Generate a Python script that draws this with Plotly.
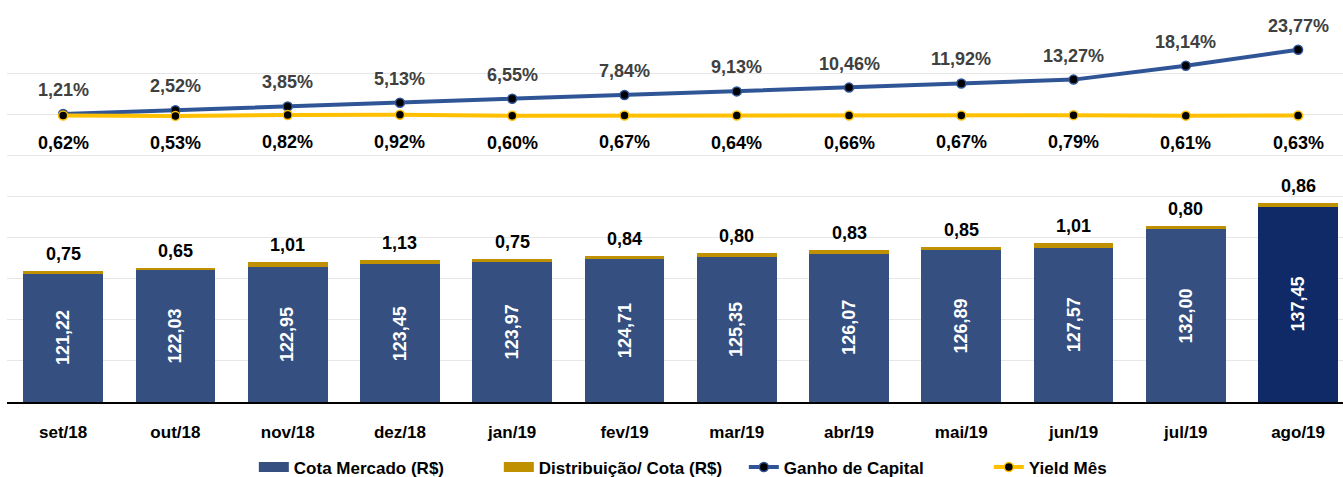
import plotly.graph_objects as go

meses = ["set/18", "out/18", "nov/18", "dez/18", "jan/19", "fev/19",
         "mar/19", "abr/19", "mai/19", "jun/19", "jul/19", "ago/19"]
cota_mercado = [121.22, 122.03, 122.95, 123.45, 123.97, 124.71,
                125.35, 126.07, 126.89, 127.57, 132.00, 137.45]
distribuicao = [0.75, 0.65, 1.01, 1.13, 0.75, 0.84,
                0.80, 0.83, 0.85, 1.01, 0.80, 0.86]
ganho_capital = [1.21, 2.52, 3.85, 5.13, 6.55, 7.84,
                 9.13, 10.46, 11.92, 13.27, 18.14, 23.77]
yield_mes = [0.62, 0.53, 0.82, 0.92, 0.60, 0.67,
             0.64, 0.66, 0.67, 0.79, 0.61, 0.63]


def br(v, suffix=""):
    return f"{v:.2f}".replace(".", ",") + suffix


BLUE = "#344F80"
DARK = "#0F2A66"
GOLD = "#BF9000"
LINE_BLUE = "#2F5597"
LINE_YEL = "#FFC000"
FONT = "Liberation Sans"

Y_MIN, Y_MAX = 90, 180          # bar axis range
Y2_MIN, Y2_MAX = -100, 30       # line axis range

bar_colors = [BLUE] * (len(meses) - 1) + [DARK]

fig = go.Figure()
fig.add_trace(go.Bar(
    x=meses, y=cota_mercado, name="Cota Mercado (R$)", showlegend=False,
    marker=dict(color=bar_colors, line=dict(width=0)),
))
fig.add_trace(go.Bar(
    x=meses, y=distribuicao, name="Distribuição/ Cota (R$)", showlegend=False,
    marker=dict(color=GOLD, line=dict(width=0)),
))
# legend swatches for the bar series (wide rectangles as in the original)
fig.add_trace(go.Scatter(
    x=[None], y=[None], name="Cota Mercado (R$)", mode="lines",
    line=dict(color=BLUE, width=10),
))
fig.add_trace(go.Scatter(
    x=[None], y=[None], name="Distribuição/ Cota (R$)", mode="lines",
    line=dict(color=GOLD, width=10),
))
fig.add_trace(go.Scatter(
    x=meses, y=ganho_capital, name="Ganho de Capital", yaxis="y2",
    mode="lines+markers", line=dict(color=LINE_BLUE, width=4),
    marker=dict(color="black", size=9, line=dict(color=LINE_BLUE, width=1.5)),
))
fig.add_trace(go.Scatter(
    x=meses, y=yield_mes, name="Yield Mês", yaxis="y2",
    mode="lines+markers", line=dict(color=LINE_YEL, width=4),
    marker=dict(color="black", size=9, line=dict(color=LINE_YEL, width=1.5)),
))

annotations = []
for m, g in zip(meses, ganho_capital):
    annotations.append(dict(x=m, y=g, xref="x", yref="y2", text=br(g, "%"),
                            showarrow=False, yshift=24,
                            font=dict(size=18, color="#404040", family=FONT, weight="bold")))
for m, yv in zip(meses, yield_mes):
    annotations.append(dict(x=m, y=yv, xref="x", yref="y2", text=br(yv, "%"),
                            showarrow=False, yshift=-27,
                            font=dict(size=18, color="black", family=FONT, weight="bold")))
for m, c, d in zip(meses, cota_mercado, distribuicao):
    annotations.append(dict(x=m, y=c + d, xref="x", yref="y", text=br(d),
                            showarrow=False, yshift=17,
                            font=dict(size=18, color="black", family=FONT, weight="bold")))
    # value label inside the visible part of the bar, rotated
    annotations.append(dict(x=m, y=(Y_MIN + c) / 2, xref="x", yref="y", text=br(c),
                            showarrow=False, textangle=-90,
                            font=dict(size=18, color="white", family=FONT, weight="bold")))

fig.update_layout(
    width=1343, height=477,
    margin=dict(l=7, r=0, t=32, b=75, autoexpand=False),
    paper_bgcolor="white", plot_bgcolor="white",
    barmode="stack", bargap=0.29,
    font=dict(family=FONT, size=18, color="black"),
    showlegend=True,
    legend=dict(orientation="h", xref="container", x=0.189, xanchor="left",
                yref="container", y=0.02, yanchor="middle",
                traceorder="normal", entrywidth=200, entrywidthmode="pixels",
                font=dict(family=FONT, size=17, color="black", weight="bold"),
                tracegroupgap=0, bgcolor="rgba(0,0,0,0)"),
    xaxis=dict(type="category", range=[-0.5, 11.4], showgrid=False,
               showline=True, linecolor="black", linewidth=2,
               ticks="", ticklabelstandoff=14, automargin=False,
               tickfont=dict(family=FONT, size=17, color="black", weight="bold")),
    yaxis=dict(range=[Y_MIN, Y_MAX], dtick=10, showgrid=True, gridcolor="#E6E6E6",
               gridwidth=1, showticklabels=False, zeroline=False, ticks="",
               automargin=False),
    yaxis2=dict(range=[Y2_MIN, Y2_MAX], overlaying="y", side="right", showgrid=False,
                showticklabels=False, zeroline=False, ticks="", automargin=False),
    annotations=annotations,
)

fig.write_html("out.html", config={"displayModeBar": False},
               post_script="document.body.style.margin='0';document.body.style.padding='0';")
